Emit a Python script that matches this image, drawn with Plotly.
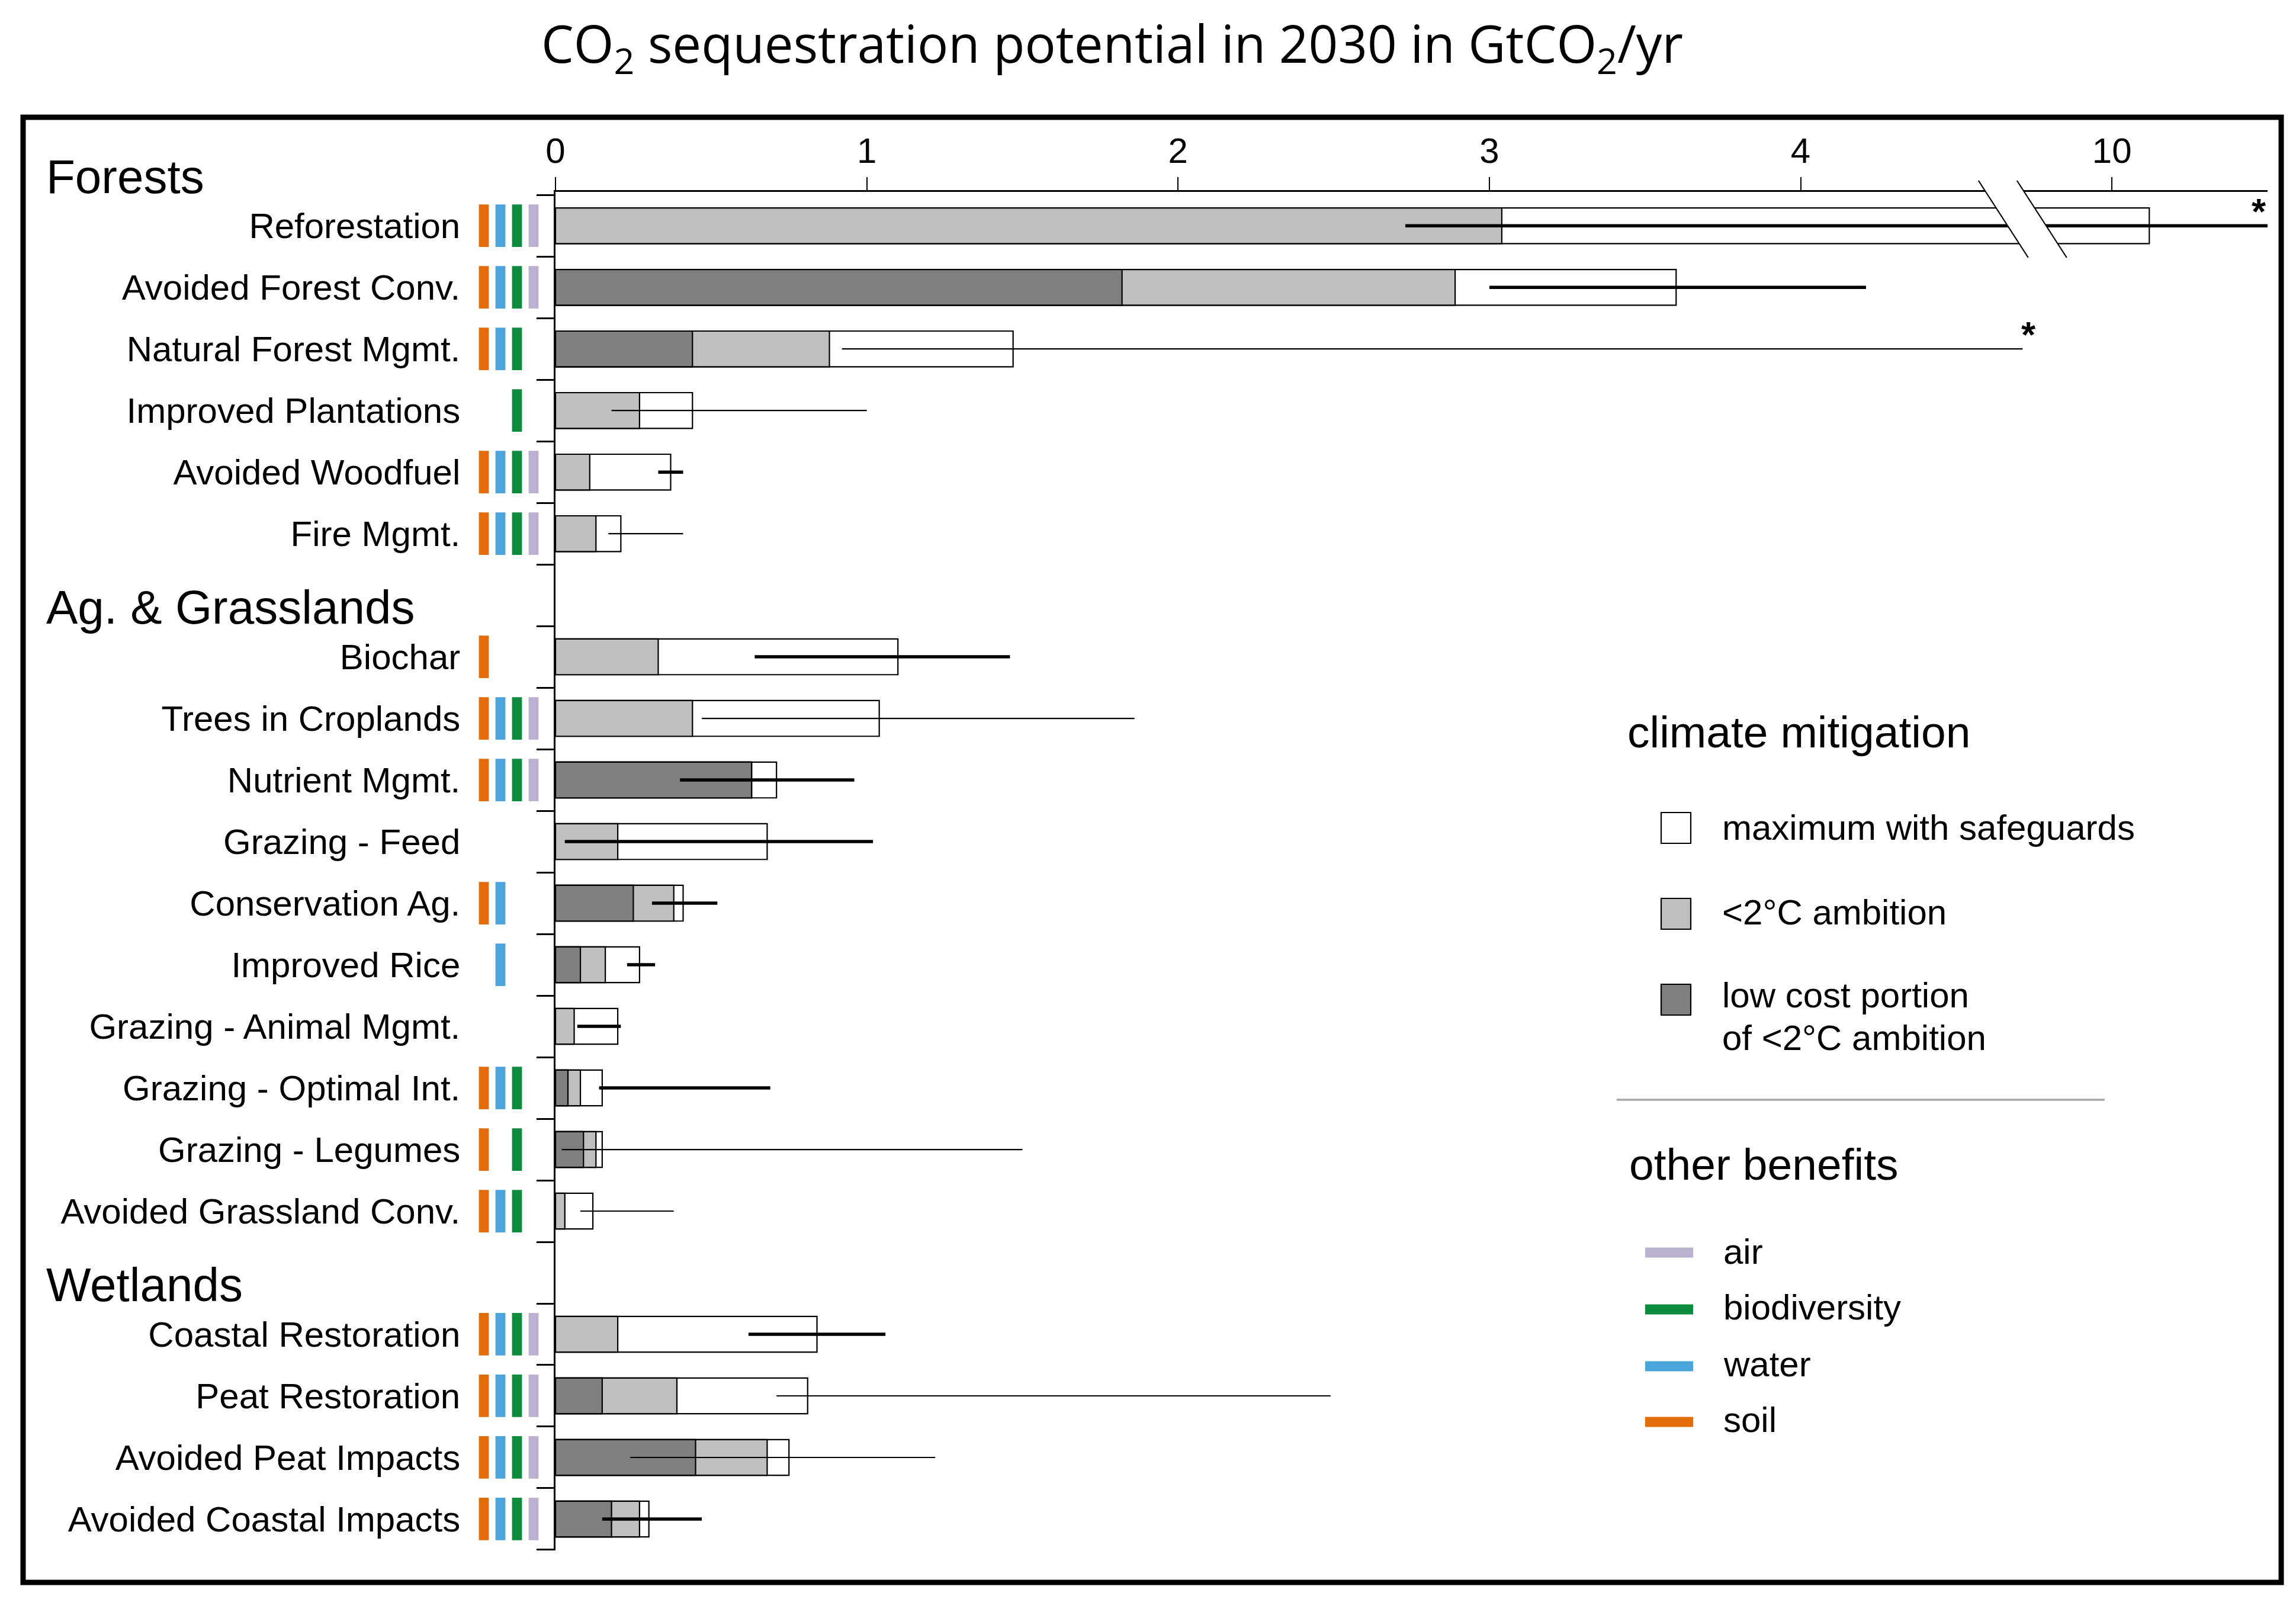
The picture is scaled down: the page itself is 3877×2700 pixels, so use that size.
import plotly.graph_objects as go

# ---------------- data ----------------
section_names = ["Forests", "Ag. & Grasslands", "Wetlands"]
section_of = [0, 0, 0, 0, 0, 0,
              1, 1, 1, 1, 1, 1, 1, 1, 1, 1,
              2, 2, 2, 2]
pathways = [
    "Reforestation", "Avoided Forest Conv.", "Natural Forest Mgmt.",
    "Improved Plantations", "Avoided Woodfuel", "Fire Mgmt.",
    "Biochar", "Trees in Croplands", "Nutrient Mgmt.", "Grazing - Feed",
    "Conservation Ag.", "Improved Rice", "Grazing - Animal Mgmt.",
    "Grazing - Optimal Int.", "Grazing - Legumes", "Avoided Grassland Conv.",
    "Coastal Restoration", "Peat Restoration", "Avoided Peat Impacts",
    "Avoided Coastal Impacts",
]
# GtCO2/yr
max_safeguards = [10.12, 3.60, 1.47, 0.44, 0.37, 0.21,
                  1.10, 1.04, 0.71, 0.68, 0.41, 0.27, 0.20, 0.15, 0.15, 0.12,
                  0.84, 0.81, 0.75, 0.30]
ambition_2c = [3.04, 2.89, 0.88, 0.27, 0.11, 0.13,
               0.33, 0.44, 0.63, 0.20, 0.38, 0.16, 0.06, 0.08, 0.13, 0.03,
               0.20, 0.39, 0.68, 0.27]
low_cost = [None, 1.82, 0.44, None, None, None,
            None, None, 0.63, None, 0.25, 0.08, None, 0.04, 0.09, None,
            None, 0.15, 0.45, 0.18]
err_low = [2.73, 3.00, 0.92, 0.18, 0.33, 0.17,
           0.64, 0.47, 0.40, 0.03, 0.31, 0.23, 0.07, 0.14, 0.02, 0.08,
           0.62, 0.71, 0.24, 0.15]
err_high = [10.50, 4.21, 4.76, 1.00, 0.41, 0.41,
            1.46, 1.86, 0.96, 1.02, 0.52, 0.32, 0.21, 0.69, 1.50, 0.38,
            1.06, 2.49, 1.22, 0.47]
err_thick = [True, True, False, False, True, False,
             True, False, True, True, True, True, True, True, False, False,
             True, False, False, True]
err_truncated = [True, False, True, False, False, False,
                 False, False, False, False, False, False, False, False, False, False,
                 False, False, False, False]

benefit_names = ["soil", "water", "biodiversity", "air"]
soil = [1, 1, 1, 0, 1, 1, 1, 1, 1, 0, 1, 0, 0, 1, 1, 1, 1, 1, 1, 1]
water = [1, 1, 1, 0, 1, 1, 0, 1, 1, 0, 1, 1, 0, 1, 0, 1, 1, 1, 1, 1]
biodiversity = [1, 1, 1, 1, 1, 1, 0, 1, 1, 0, 0, 0, 0, 1, 1, 1, 1, 1, 1, 1]
air = [1, 1, 0, 0, 1, 1, 0, 1, 1, 0, 0, 0, 0, 0, 0, 0, 1, 1, 1, 1]
benefit_colors = {"soil": "#E36C0A", "water": "#4BA5DA",
                  "biodiversity": "#0E8C3E", "air": "#BAB2CE"}

x_tick_vals = [0, 1, 2, 3, 4, 10]
x_tick_text = ["0", "1", "2", "3", "4", "10"]

mitigation_legend = ["maximum with safeguards", "&lt;2°C ambition",
                     "low cost portion", "of &lt;2°C ambition"]
mitigation_colors = ["white", "#BFBFBF", "#7F7F7F"]

# ---------------- layout geometry ----------------
W, H = 3877, 2700
ML, MR, MT, MB = 780, 56, 316, 90
PW, PH = W - ML - MR, H - MT - MB
ZERO_PX = 930
AXIS_END = 5.5          # linear units shown
BREAK_AT = 4.713        # where the axis is broken
BREAK_GAP = 5.0         # amount of axis removed
unit_px = (W - MR - ZERO_PX) / AXIS_END


def pxx(px):
    return (px - ML) / PW


def pxy(py):
    return (H - MB - py) / PH


break_px = ZERO_PX + BREAK_AT * unit_px
x_dom = [pxx(ZERO_PX), pxx(break_px)]
x2_dom = [pxx(break_px), 1.0]
x3_dom = [pxx(795), pxx(907)]

BAR_W = 0.58
MARK_H = 0.69
FONT = "Liberation Sans, Arial, sans-serif"

# row positions (one empty slot per section header)
rows, header_rows = [], []
idx, prev = -1, None
for s in section_of:
    if s != prev:
        header_rows.append(idx)
        idx += 1
        prev = s
    rows.append(idx)
    idx += 1
n_slots = idx
y_range = [n_slots - 0.49, -0.55]


def row_to_paper(v):
    return (y_range[0] - v) / (y_range[0] - y_range[1])


fig = go.Figure()

for xa in ["x", "x2"]:
    fig.add_trace(go.Bar(
        orientation="h", y=rows, x=max_safeguards, base=0, width=BAR_W,
        marker=dict(color=mitigation_colors[0], line=dict(color="black", width=2.2)),
        xaxis=xa, yaxis="y", showlegend=False, name="maximum with safeguards"))
    fig.add_trace(go.Bar(
        orientation="h", y=rows, x=ambition_2c, base=0, width=BAR_W,
        marker=dict(color=mitigation_colors[1], line=dict(color="black", width=2.2)),
        xaxis=xa, yaxis="y", showlegend=False, name="<2°C ambition"))
    lc_rows = [r for r, v in zip(rows, low_cost) if v is not None]
    lc_vals = [v for v in low_cost if v is not None]
    fig.add_trace(go.Bar(
        orientation="h", y=lc_rows, x=lc_vals, base=0, width=BAR_W,
        marker=dict(color=mitigation_colors[2], line=dict(color="black", width=2.2)),
        xaxis=xa, yaxis="y", showlegend=False, name="low cost portion"))
    for thick in (True, False):
        xs, ys = [], []
        for r, lo, hi, t in zip(rows, err_low, err_high, err_thick):
            if t == thick:
                xs += [lo, hi, None]
                ys += [r, r, None]
        fig.add_trace(go.Scatter(
            x=xs, y=ys, mode="lines",
            line=dict(color="black", width=5.5 if thick else 2.2),
            xaxis=xa, yaxis="y", showlegend=False, hoverinfo="skip"))

benefit_flags = {"soil": soil, "water": water, "biodiversity": biodiversity, "air": air}
for name in benefit_names:
    rr = [r for r, f in zip(rows, benefit_flags[name]) if f]
    fig.add_trace(go.Bar(
        orientation="v", x=[name] * len(rr), y=[MARK_H] * len(rr),
        base=[r - MARK_H / 2 for r in rr], width=0.6,
        marker=dict(color=benefit_colors[name], line=dict(width=0)),
        xaxis="x3", yaxis="y", showlegend=False, name=name))

axis_common = dict(
    side="top", anchor="y", showline=True, linecolor="black", linewidth=2.5,
    ticks="outside", ticklen=22, tickwidth=2.2, tickcolor="black",
    tickmode="array", showgrid=False, zeroline=False,
    tickfont=dict(family=FONT, size=60, color="black"))

fig.update_layout(
    width=W, height=H,
    margin=dict(l=ML, r=MR, t=MT, b=MB, autoexpand=False),
    plot_bgcolor="white", paper_bgcolor="white",
    barmode="overlay",
    title=dict(
        text="CO<sub>2</sub> sequestration potential in 2030 in GtCO<sub>2</sub>/yr",
        xref="container", yref="container", x=1870 / W, y=1 - 68 / H,
        xanchor="center", yanchor="middle",
        font=dict(family="Open Sans, sans-serif", size=87, color="black")),
    xaxis=dict(axis_common, domain=x_dom, range=[0, BREAK_AT],
               tickvals=[v for v in x_tick_vals if v <= BREAK_AT],
               ticktext=[t for v, t in zip(x_tick_vals, x_tick_text) if v <= BREAK_AT]),
    xaxis2=dict(axis_common, domain=x2_dom, range=[BREAK_AT + BREAK_GAP, AXIS_END + BREAK_GAP],
                tickvals=[v for v in x_tick_vals if v > BREAK_AT],
                ticktext=[t for v, t in zip(x_tick_vals, x_tick_text) if v > BREAK_AT]),
    xaxis3=dict(domain=x3_dom, type="category", categoryorder="array",
                categoryarray=benefit_names, range=[-0.5, 3.5], visible=False,
                anchor="y", fixedrange=True),
    yaxis=dict(range=y_range, anchor="x", showline=True,
               linecolor="black", linewidth=2.5, showgrid=False, zeroline=False,
               tickmode="array", tickvals=rows, ticktext=pathways, ticks="",
               ticklabelstandoff=146,
               tickfont=dict(family=FONT, size=60, color="black"),
               minor=dict(ticks="outside", ticklen=29, tickwidth=2.5, tickcolor="black",
                          tickmode="linear", tick0=-0.5, dtick=1, showgrid=False)),
)

annotations = []
# section headers
for name, hr in zip(section_names, header_rows):
    annotations.append(dict(
        text=name, xref="paper", yref="paper", x=pxx(68), y=row_to_paper(hr + 0.2),
        xanchor="left", yanchor="middle", showarrow=False,
        font=dict(family=FONT, size=80, color="black")))
# truncation asterisks (placed at the drawn end of the truncated range)
for r, hi, tr in zip(rows, err_high, err_truncated):
    if not tr:
        continue
    if hi > BREAK_AT + BREAK_GAP:
        xref, xv, xs = "x2", min(hi, AXIS_END + BREAK_GAP), 0
    else:
        xref, xv, xs = "x", min(hi, BREAK_AT), (hi - min(hi, BREAK_AT)) * unit_px
    annotations.append(dict(
        text="<b>*</b>", xref=xref, yref="y", x=xv, y=r, xanchor="right",
        yanchor="middle", xshift=xs, yshift=25, showarrow=False,
        font=dict(family=FONT, size=62, color="black")))

# custom legend
annotations.append(dict(text="climate mitigation", xref="paper", yref="paper",
                        x=pxx(2738), y=pxy(1228), xanchor="left", yanchor="middle",
                        showarrow=False, font=dict(family=FONT, size=75, color="black")))
annotations.append(dict(text="other benefits", xref="paper", yref="paper",
                        x=pxx(2741), y=pxy(1958), xanchor="left", yanchor="middle",
                        showarrow=False, font=dict(family=FONT, size=75, color="black")))
for txt, ty in zip(mitigation_legend, [1389, 1532, 1672, 1744]):
    annotations.append(dict(text=txt, xref="paper", yref="paper",
                            x=pxx(2898), y=pxy(ty), xanchor="left", yanchor="middle",
                            showarrow=False, font=dict(family=FONT, size=60, color="black")))
legend_benefit_order = ["air", "biodiversity", "water", "soil"]
for name, ty in zip(legend_benefit_order, [2105, 2199, 2295, 2389]):
    annotations.append(dict(text=name, xref="paper", yref="paper",
                            x=pxx(2900), y=pxy(ty), xanchor="left", yanchor="middle",
                            showarrow=False, font=dict(family=FONT, size=60, color="black")))

shapes = []
# outer frame
shapes.append(dict(type="rect", xref="paper", yref="paper",
                   x0=pxx(31), x1=pxx(3844), y0=pxy(2664), y1=pxy(190),
                   line=dict(color="black", width=9), fillcolor="rgba(0,0,0,0)",
                   layer="above"))
# axis break
ytop, ybot, slant, half = 297, 427, 84, 32.5
a1 = (break_px - half - slant / 2, ytop)
b1 = (break_px - half + slant / 2, ybot)
a2 = (break_px + half - slant / 2, ytop)
b2 = (break_px + half + slant / 2, ybot)
poly = "M{},{} L{},{} L{},{} L{},{} Z".format(
    pxx(a1[0]), pxy(a1[1]), pxx(a2[0]), pxy(a2[1]),
    pxx(b2[0]), pxy(b2[1]), pxx(b1[0]), pxy(b1[1]))
shapes.append(dict(type="path", xref="paper", yref="paper", path=poly,
                   fillcolor="white", line=dict(width=0), layer="above"))
for a, b in [(a1, b1), (a2, b2)]:
    shapes.append(dict(type="line", xref="paper", yref="paper",
                       x0=pxx(a[0]), y0=pxy(a[1]), x1=pxx(b[0]), y1=pxy(b[1]),
                       line=dict(color="black", width=2.2), layer="above"))
# legend swatches
for col, cy in zip(mitigation_colors, [1390, 1535, 1680]):
    shapes.append(dict(type="rect", xref="paper", yref="paper",
                       x0=pxx(2797), x1=pxx(2847), y0=pxy(cy + 26), y1=pxy(cy - 26),
                       fillcolor=col, line=dict(color="black", width=2.2), layer="above"))
shapes.append(dict(type="line", xref="paper", yref="paper",
                   x0=pxx(2722), x1=pxx(3546), y0=pxy(1849), y1=pxy(1849),
                   line=dict(color="#A6A6A6", width=3.5), layer="above"))
for name, cy in zip(legend_benefit_order, [2107, 2203, 2299, 2393]):
    shapes.append(dict(type="line", xref="paper", yref="paper",
                       x0=pxx(2770), x1=pxx(2851), y0=pxy(cy), y1=pxy(cy),
                       line=dict(color=benefit_colors[name], width=17), layer="above"))

fig.update_layout(annotations=annotations, shapes=shapes)
fig.write_html("out.html")
